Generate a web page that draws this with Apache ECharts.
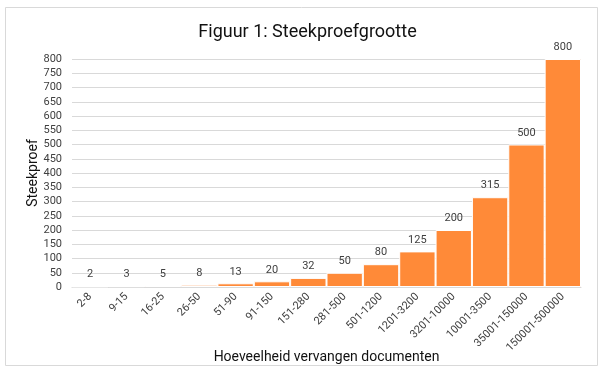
<!DOCTYPE html>
<html><head><meta charset="utf-8">
<script src="https://cdn.jsdelivr.net/npm/echarts@6/dist/echarts.min.js"></script>
<style>html,body{margin:0;padding:0;background:#fff}#c{width:615px;height:371px}</style>
</head><body><div id="c"></div>
<script>
const categories = ['2-8','9-15','16-25','26-50','51-90','91-150','151-280','281-500','501-1200','1201-3200','3201-10000','10001-3500','35001-150000','150001-500000'];
const values = [2,3,5,8,13,20,32,50,80,125,200,315,500,800];
const yTicks = {min:0, max:800, interval:50};

const chart = echarts.init(document.getElementById('c'), null, {renderer:'canvas'});
chart.setOption({
  animation:false,
  backgroundColor:'#fff',
  title:{text:'Figuur 1: Steekproefgrootte', left:'center', top:18,
    textStyle:{fontFamily:'Roboto', fontSize:18, fontWeight:'normal', color:'#111'}},
  graphic:[{type:'rect', shape:{x:5.5,y:7.5,width:592,height:358}, style:{fill:'none', stroke:'#d9d9d9', lineWidth:1}, silent:true, z:-1}],
  grid:{left:72, right:34, top:59, bottom:84, containLabel:false, outerBoundsMode:'none'},
  xAxis:{type:'category', data:categories,
    name:'Hoeveelheid vervangen documenten', nameLocation:'middle', nameGap:63, nameMoveOverlap:false,
    nameTextStyle:{fontFamily:'Roboto', fontSize:14, color:'#111'},
    axisLine:{show:true, lineStyle:{color:'#d9d9d9'}}, axisTick:{show:false},
    axisLabel:{rotate:45, interval:0, fontFamily:'Roboto', fontSize:11, color:'#404040', margin:8}},
  yAxis:{type:'value', min:yTicks.min, max:yTicks.max, interval:yTicks.interval,
    name:'Steekproef', nameLocation:'middle', nameGap:32, nameMoveOverlap:false,
    nameTextStyle:{fontFamily:'Roboto', fontSize:14, color:'#111'},
    axisLine:{show:false}, axisTick:{show:false},
    axisLabel:{fontFamily:'Roboto', fontSize:11, color:'#404040', margin:10},
    splitLine:{lineStyle:{color:'#d9d9d9'}}},
  series:[{type:'bar', data:values, barCategoryGap:'0%',
    itemStyle:{color:'#FF8A38', borderColor:'#fff', borderWidth:1},
    label:{show:true, position:'top', distance:6, fontFamily:'Roboto', fontSize:11, color:'#404040'}}]
});
</script></body></html>
